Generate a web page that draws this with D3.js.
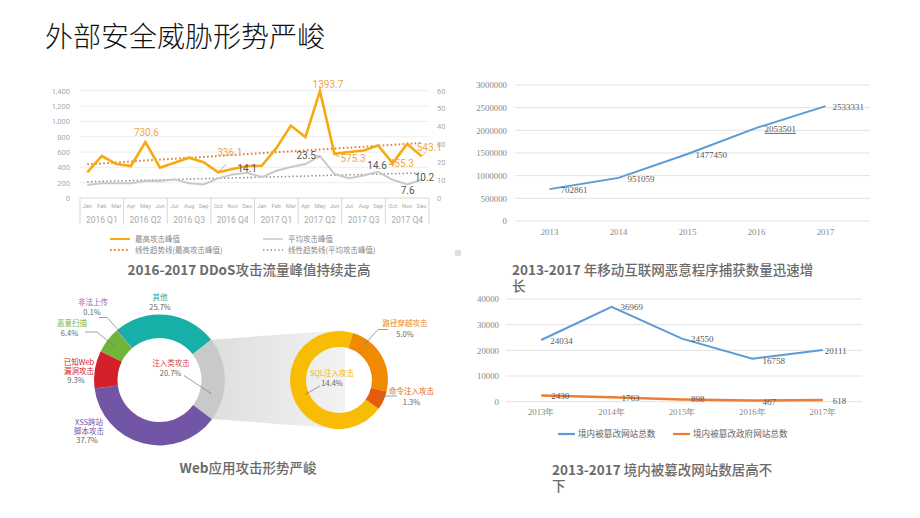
<!DOCTYPE html>
<html><head><meta charset="utf-8">
<script src="https://cdn.jsdelivr.net/npm/d3@7/dist/d3.min.js"></script>
<style>body{margin:0;background:#fff}svg{display:block}</style>
</head><body>
<svg id="c" width="920" height="518"></svg>
<script>
// ---------------- DATA ----------------
const ddosMonths = ["Jan","Feb","Mar","Apr","May","Jun","Jul","Aug","Sep","Oct","Nov","Dec",
                    "Jan","Feb","Mar","Apr","May","Jun","Jul","Aug","Sep","Oct","Nov","Dec"];
const ddosQuarters = ["2016 Q1","2016 Q2","2016 Q3","2016 Q4","2017 Q1","2017 Q2","2017 Q3","2017 Q4"];
const ddosMax = [335,548,443,417,730.6,396,461,526,466,336.1,378,417,
                 420,650,945,795,1393.7,575.3,600,620,685,455.3,705,543.1];
const ddosAvg = [7.3,8.2,8.2,8.2,9.5,9.5,10.4,8.2,7.6,11.0,13.2,14.1,
                 11.7,15.2,17.3,19.0,23.5,13.4,11.1,12.6,14.6,10.2,7.6,10.2];
const ddosMaxTrend = [440,718];     // trend line at first / last month
const ddosAvgTrend = [9.1,14.0];
const ddosLeftTicks = [0,200,400,600,800,1000,1200,1400];
const ddosRightTicks = [0,10,20,30,40,50,60];
const ddosLegend = ["最高攻击峰值","平均攻击峰值","线性趋势线(最高攻击峰值)","线性趋势线(平均攻击峰值)"];

const mobileYears = ["2013","2014","2015","2016","2017"];
const mobileValues = [702861,951059,1477450,2053501,2533331];
const mobileTicks = [0,500000,1000000,1500000,2000000,2500000,3000000];

const tamperYears = ["2013年","2014年","2015年","2016年","2017年"];
const tamperTotal = [24034,36969,24550,16758,20111];
const tamperGov = [2430,1763,898,467,618];
const tamperTicks = [0,10000,20000,30000,40000];
const tamperSeries = ["境内被篡改网站总数","境内被篡改政府网站总数"];

const webCategories = ["其他","注入类攻击","XSS跨站脚本攻击","已知Web漏洞攻击","恶意扫描","非法上传"];
const webValues = [25.7,20.7,37.7,9.3,6.4,0.1];
const injectCategories = ["SQL注入攻击","路径穿越攻击","命令注入攻击"];
const injectValues = [14.4,5.0,1.3];

// ---------------- DRAW ----------------
const svg = d3.select("#c");
const CJK = "'Noto Sans CJK SC','Noto Sans',sans-serif";
const SANS = "Roboto,'Noto Sans',sans-serif";
const SERIF = "'Liberation Serif','DejaVu Serif',serif";

svg.append("text").attr("x",45).attr("y",47).attr("font-family",CJK)
  .attr("font-size",28).attr("font-weight",300).attr("fill","#111").text("外部安全威胁形势严峻");

// ===== DDoS chart =====
(function(){
  const L=80,R=429,T=90.7,B=198;
  const g = svg.append("g");
  const x = d3.scaleBand().domain(d3.range(ddosMonths.length)).range([L,R]);
  const bw = x.bandwidth();
  const cx = i => x(i)+bw/2;
  const yL = d3.scaleLinear().domain([0,1400]).range([B,T]);
  const yR = d3.scaleLinear().domain([0,60]).range([B,T]);
  g.selectAll(".gl").data(ddosLeftTicks.slice(1)).join("line")
    .attr("x1",L).attr("x2",R).attr("y1",d=>yL(d)).attr("y2",d=>yL(d))
    .attr("stroke","#eeeeee").attr("stroke-width",1);
  const ax = g.append("g").attr("transform",`translate(${L},0)`)
    .call(d3.axisLeft(yL).tickValues(ddosLeftTicks).tickFormat(d3.format(",")).tickSize(0).tickPadding(10));
  const ar = g.append("g").attr("transform",`translate(${R},0)`)
    .call(d3.axisRight(yR).tickValues(ddosRightTicks).tickSize(0).tickPadding(8));
  [ax,ar].forEach(a=>{a.select(".domain").remove();
    a.selectAll("text").attr("font-family",SANS).attr("font-size",7.5).attr("fill","#aaa");});
  // category axis
  g.append("line").attr("x1",L).attr("x2",R).attr("y1",B).attr("y2",B).attr("stroke","#d6d6d6");
  g.selectAll(".sep").data(d3.range(ddosQuarters.length+1)).join("line")
    .attr("x1",i=>L+i*3*bw).attr("x2",i=>L+i*3*bw).attr("y1",B).attr("y2",224)
    .attr("stroke","#d6d6d6");
  g.selectAll(".mon").data(ddosMonths).join("text")
    .attr("x",(d,i)=>cx(i)).attr("y",208).attr("text-anchor","middle")
    .attr("font-family",SANS).attr("font-size",5.8).attr("fill","#aaa").text(d=>d);
  g.selectAll(".q").data(ddosQuarters).join("text")
    .attr("x",(d,i)=>x(i*3)+1.5*bw).attr("y",223).attr("text-anchor","middle")
    .attr("font-family",SANS).attr("font-size",8.5).attr("fill","#aaa").text(d=>d);
  // trend lines
  const last = ddosMonths.length-1;
  g.append("line").attr("x1",cx(0)).attr("x2",cx(last)).attr("y1",yL(ddosMaxTrend[0])).attr("y2",yL(ddosMaxTrend[1]))
    .attr("stroke","#EE7B22").attr("stroke-width",2).attr("stroke-dasharray","1.6,2.4");
  g.append("line").attr("x1",cx(0)).attr("x2",cx(last)).attr("y1",yR(ddosAvgTrend[0])).attr("y2",yR(ddosAvgTrend[1]))
    .attr("stroke","#8a8a8a").attr("stroke-width",1.5).attr("stroke-dasharray","1.4,2.4");
  // series
  g.append("path").datum(ddosAvg).attr("fill","none").attr("stroke","#c9c9c9").attr("stroke-width",2)
    .attr("d",d3.line().x((d,i)=>cx(i)).y(d=>yR(d)));
  g.append("path").datum(ddosMax).attr("fill","none").attr("stroke","#F6AA10").attr("stroke-width",2.6)
    .attr("stroke-linejoin","miter")
    .attr("d",d3.line().x((d,i)=>cx(i)).y(d=>yL(d)));
  // labels
  const OR="#F3A548", DK="#555";
  const maxLab = [[4,"middle",1,-6],[9,"start",-1,-16],[16,"middle",8,-3],[17,"start",6,8.5],[21,"start",-4,3.5],[23,"start",-5,-5]];
  maxLab.forEach(([i,a,dx,dy])=>{
    g.append("text").attr("x",cx(i)+dx).attr("y",yL(ddosMax[i])+dy).attr("text-anchor",a)
      .attr("font-family",SANS).attr("font-size",10).attr("fill",OR).text(ddosMax[i]);
  });
  const avgLab = [[11,"middle",0,-1],[16,"end",-4,3.5],[20,"middle",-1,-3],[22,"middle",0.5,10],[23,"start",-7,1]];
  avgLab.forEach(([i,a,dx,dy])=>{
    g.append("text").attr("x",cx(i)+dx).attr("y",yR(ddosAvg[i])+dy).attr("text-anchor",a)
      .attr("font-family",SANS).attr("font-size",10).attr("fill",DK).text(ddosAvg[i]);
  });
  // leader lines
  const ld = (x1,y1,x2,y2,c)=>g.append("line").attr("x1",x1).attr("y1",y1).attr("x2",x2).attr("y2",y2).attr("stroke",c||"#999").attr("stroke-width",0.8);
  ld(cx(9)+1,yL(ddosMax[9])-1,cx(9)+8,yL(ddosMax[9])-8);
  ld(cx(16)-4,yR(ddosAvg[16])-1,cx(16),yR(ddosAvg[16])+1);
  ld(cx(17)+1,yL(ddosMax[17])+1,cx(17)+5,yL(ddosMax[17])+3);
  ld(cx(23)+1,yL(ddosMax[23])-1,cx(23)+4,yL(ddosMax[23])-4);
  // legend
  const lg = svg.append("g").attr("font-family",CJK).attr("font-size",7.5).attr("fill","#888");
  const legItems = [
    {x:110,y:239,c:"#F6AA10",w:2,da:null},
    {x:263,y:239,c:"#c9c9c9",w:1.5,da:null},
    {x:110,y:250,c:"#EE7B22",w:2,da:"1.6,2.4"},
    {x:263,y:250,c:"#8a8a8a",w:1.5,da:"1.4,2.4"}];
  legItems.forEach((o,k)=>{
    lg.append("line").attr("x1",o.x).attr("x2",o.x+20).attr("y1",o.y).attr("y2",o.y)
      .attr("stroke",o.c).attr("stroke-width",o.w).attr("stroke-dasharray",o.da);
    lg.append("text").attr("x",o.x+25).attr("y",o.y+2.7).text(ddosLegend[k]);
  });
  const cap = svg.append("text").attr("x",249).attr("y",275).attr("text-anchor","middle")
    .attr("font-family",CJK).attr("font-size",13.5).attr("fill","#6a6a6a").attr("font-weight",700);
  cap.append("tspan").text("2016-2017 DDoS");
  cap.append("tspan").attr("font-weight",500).text("攻击流量峰值持续走高");
  svg.append("rect").attr("x",455).attr("y",250).attr("width",6).attr("height",6).attr("fill","#e0e0e0");
})();

// ===== Mobile malware chart =====
(function(){
  const L=515,R=860,T=85,B=221;
  const g = svg.append("g");
  const x = d3.scaleBand().domain(mobileYears).range([L,R]);
  const y = d3.scaleLinear().domain([0,3000000]).range([B,T]);
  const cx = d => x(d)+x.bandwidth()/2;
  g.selectAll(".gl").data(mobileTicks).join("line")
    .attr("x1",L).attr("x2",R+10).attr("y1",d=>y(d)).attr("y2",d=>y(d))
    .attr("stroke","#e2e2e2").attr("stroke-width",1);
  const ay = g.append("g").attr("transform",`translate(${L},0)`)
    .call(d3.axisLeft(y).tickValues(mobileTicks).tickFormat(d3.format("d")).tickSize(0).tickPadding(8));
  ay.select(".domain").remove();
  ay.selectAll("text").attr("font-family",SERIF).attr("font-size",8.8).attr("fill","#888");
  const axb = g.append("g").attr("transform",`translate(0,${B})`)
    .call(d3.axisBottom(x).tickSize(0).tickPadding(8));
  axb.select(".domain").remove();
  axb.selectAll("text").attr("font-family",SERIF).attr("font-size",8.8).attr("fill","#888");
  g.append("path").datum(mobileValues).attr("fill","none").attr("stroke","#5B9BD5").attr("stroke-width",2)
    .attr("d",d3.line().x((d,i)=>cx(mobileYears[i])).y(d=>y(d)));
  const off = [[11,4],[9,4],[8,4],[8,4],[7,4]];
  mobileValues.forEach((v,i)=>{
    g.append("text").attr("x",cx(mobileYears[i])+off[i][0]).attr("y",y(v)+off[i][1])
      .attr("font-family",SERIF).attr("font-size",9).attr("fill","#595959")
      .attr("text-decoration",i===3?"underline":null).text(v);
  });
  const cap = svg.append("text").attr("x",512).attr("y",275)
    .attr("font-family",CJK).attr("font-size",13.5).attr("fill","#6a6a6a").attr("font-weight",700);
  cap.append("tspan").text("2013-2017 ");
  cap.append("tspan").attr("font-weight",500).text("年移动互联网恶意程序捕获数量迅速增");
  svg.append("text").attr("x",512).attr("y",291).attr("font-family",CJK).attr("font-size",13.5)
    .attr("fill","#6a6a6a").attr("font-weight",500).text("长");
})();

// ===== Tampered sites chart =====
(function(){
  const L=506,R=858,T=299,B=401.7;
  const g = svg.append("g");
  const x = d3.scaleBand().domain(tamperYears).range([L,R]);
  const y = d3.scaleLinear().domain([0,40000]).range([B,T]);
  const cx = d => x(d)+x.bandwidth()/2;
  g.selectAll(".gl").data(tamperTicks).join("line")
    .attr("x1",L).attr("x2",R+4).attr("y1",d=>y(d)).attr("y2",d=>y(d))
    .attr("stroke","#e2e2e2").attr("stroke-width",1);
  const ay = g.append("g").attr("transform",`translate(${L},0)`)
    .call(d3.axisLeft(y).tickValues(tamperTicks).tickFormat(d3.format("d")).tickSize(0).tickPadding(7));
  ay.select(".domain").remove();
  ay.selectAll("text").attr("font-family",SERIF).attr("font-size",8.8).attr("fill","#888");
  const axb = g.append("g").attr("transform",`translate(0,${B})`)
    .call(d3.axisBottom(x).tickSize(0).tickPadding(7));
  axb.select(".domain").remove();
  axb.selectAll("text").attr("font-family",SERIF).attr("font-size",8.8).attr("fill","#888");
  const line = d3.line().x((d,i)=>cx(tamperYears[i])).y(d=>y(d));
  g.append("path").datum(tamperTotal).attr("fill","none").attr("stroke","#5B9BD5").attr("stroke-width",2).attr("d",line);
  g.append("path").datum(tamperGov).attr("fill","none").attr("stroke","#ED7D31").attr("stroke-width",2.5).attr("d",line);
  const offT = [[9,4],[9,3],[9,3],[10,5],[2,4]];
  tamperTotal.forEach((v,i)=>g.append("text").attr("x",cx(tamperYears[i])+offT[i][0]).attr("y",y(v)+offT[i][1])
    .attr("font-family",SERIF).attr("font-size",9).attr("fill","#595959").text(v));
  const offG = [[10,4],[10,4],[9,3],[10,4],[10,4]];
  tamperGov.forEach((v,i)=>g.append("text").attr("x",cx(tamperYears[i])+offG[i][0]).attr("y",y(v)+offG[i][1])
    .attr("font-family",SERIF).attr("font-size",9).attr("fill","#595959").text(v));
  // legend
  [[558,"#5B9BD5"],[673,"#ED7D31"]].forEach(([lx,c],k)=>{
    g.append("line").attr("x1",lx).attr("x2",lx+17).attr("y1",434).attr("y2",434).attr("stroke",c).attr("stroke-width",2.2);
    g.append("text").attr("x",lx+20).attr("y",437).attr("font-family",CJK).attr("font-size",8.6)
      .attr("fill","#666").text(tamperSeries[k]);
  });
  const cap = svg.append("text").attr("x",552).attr("y",475)
    .attr("font-family",CJK).attr("font-size",13.5).attr("fill","#6a6a6a").attr("font-weight",700);
  cap.append("tspan").text("2013-2017 ");
  cap.append("tspan").attr("font-weight",500).text("境内被篡改网站数居高不");
  svg.append("text").attr("x",552).attr("y",491).attr("font-family",CJK).attr("font-size",13.5)
    .attr("fill","#6a6a6a").attr("font-weight",500).text("下");
})();

// ===== Web attack donuts =====
(function(){
  const g = svg.append("g");
  const deg = Math.PI/180;
  // connector band
  const grad = svg.append("defs").append("linearGradient").attr("id","band").attr("x1","0").attr("x2","1");
  grad.append("stop").attr("offset","0").attr("stop-color","#dedede");
  grad.append("stop").attr("offset","1").attr("stop-color","#f3f3f3");
  g.append("path").attr("d","M211,339.7 L345,330 L345,429 L212,419 Z").attr("fill","url(#band)");

  const webColors = ["#17B0A8","#C8CACA","#7256A5","#D3202B","#71B43A","#8E6BB5"];
  const pieL = d3.pie().sort(null).value(d=>d).startAngle(-40.5*deg).endAngle(319.5*deg);
  const arcL = d3.arc().innerRadius(42).outerRadius(65.5);
  g.append("g").attr("transform","translate(159.5,380)").selectAll("path").data(pieL(webValues)).join("path")
    .attr("d",arcL).attr("fill",(d,i)=>webColors[i]);

  const injColors = ["#F8BC05","#F08A00","#E85B08"];
  const pieR = d3.pie().sort(null).value(d=>d).startAngle(-233.9*deg).endAngle(126.1*deg);
  const arcR = d3.arc().innerRadius(33).outerRadius(49);
  g.append("g").attr("transform","translate(339,380)").selectAll("path").data(pieR(injectValues)).join("path")
    .attr("d",arcR).attr("fill",(d,i)=>injColors[i]);

  const t = (x,y,s,c,a)=>g.append("text").attr("x",x).attr("y",y).attr("text-anchor",a||"middle")
    .attr("font-family",CJK).attr("font-size",7.5).attr("fill",c).text(s);
  const pct = v => v.toFixed(1)+"%";
  const PG="#666";
  const ln = pts => g.append("polyline").attr("points",pts).attr("fill","none").attr("stroke","#777").attr("stroke-width",0.7);
  // left labels
  t(160,300,webCategories[0],"#17A9A1"); t(160,309.5,pct(webValues[0]),PG);
  t(93,305,webCategories[5],"#8E6BB5"); t(92,314.5,pct(webValues[5]),PG);
  ln("99,317.5 107,317.5 122,334");
  t(72,325.5,webCategories[4],"#74B43F"); t(69.5,335.5,pct(webValues[4]),PG);
  ln("85,332 97,332 114,346");
  t(79,364.5,"已知Web","#D3202B"); t(79,373.8,"漏洞攻击","#D3202B"); t(76,382.8,pct(webValues[3]),PG);
  t(89,424.5,"XSS跨站","#7256A5"); t(89,433.8,"脚本攻击","#7256A5"); t(87,443,pct(webValues[2]),PG);
  t(171,365.5,webCategories[1],"#D6404F"); t(170.5,375.5,pct(webValues[1]),PG);
  ln("184,375.5 211,393.5");
  // right labels
  t(405,326,injectCategories[1],"#EE8A10"); t(405,336.5,pct(injectValues[1]),PG);
  ln("388,329.5 378,329.5 364,345");
  t(411.5,394,injectCategories[2],"#E5661A"); t(411.5,405,pct(injectValues[2]),PG);
  ln("397,396 387,396 373,398");
  t(332,375.5,injectCategories[0],"#F5B600"); t(332,386,pct(injectValues[0]),PG);
  ln("320,386 305,394.5");

  const cap = svg.append("text").attr("x",248).attr("y",473).attr("text-anchor","middle")
    .attr("font-family",CJK).attr("font-size",13.5).attr("fill","#6a6a6a").attr("font-weight",700);
  cap.append("tspan").text("Web");
  cap.append("tspan").attr("font-weight",500).text("应用攻击形势严峻");
})();
</script>
</body></html>
